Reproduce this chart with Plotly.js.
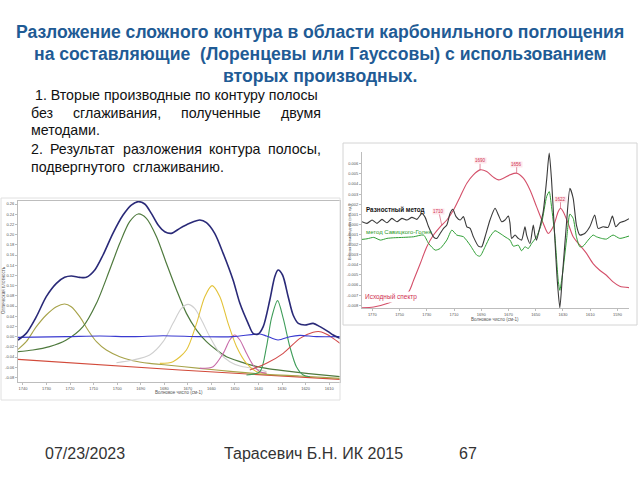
<!DOCTYPE html>
<html>
<head>
<meta charset="utf-8">
<script src="https://cdn.plot.ly/plotly-3.0.1.min.js"></script>
<style>html,body{margin:0;padding:0;background:#fff;}#chart{width:640px;height:480px;}</style>
</head>
<body>
<div id="chart"></div>
<script>
// ---------- Left chart: band decomposition (wavenumber, optical density) ----------
const totalX = [1742.1,1738.6,1734.3,1730.1,1725.8,1722.3,1719.5,1715.9,1713.1,1709.5,1706.0,1701.8,1697.5,1694.0,1691.1,1688.3,1685.5,1682.6,1679.8,1677.0,1673.4,1669.2,1664.9,1662.1,1658.6,1655.0,1650.8,1647.9,1644.4,1642.3,1640.1,1638.0,1635.2,1633.1,1631.7,1629.8,1627.4,1625.3,1623.1,1620.3,1616.8,1613.9,1610.4,1608.3,1605.4];
const totalY = [-0.0067,0.0064,0.0391,0.0783,0.1044,0.1162,0.1188,0.1162,0.1162,0.1306,0.1600,0.2025,0.2384,0.2580,0.2646,0.2600,0.2417,0.2188,0.2057,0.2025,0.2123,0.2221,0.2286,0.2234,0.2025,0.1633,0.1110,0.0652,0.0260,0.0064,0.0051,0.0195,0.0718,0.1175,0.1306,0.1208,0.0783,0.0424,0.0260,0.0227,0.0260,0.0195,0.0097,0.0031,-0.0034];
const residX = [1742.1,1721.6,1707.4,1693.3,1680.5,1664.9,1650.8,1639.4,1636.6,1631.7,1626.7,1622.4,1615.4,1605.4];
const residY = [-0.0014,-0.0001,0.0012,-0.0001,0.0018,-0.0001,-0.0001,0.0051,0.0012,-0.0067,-0.0001,0.0025,-0.0001,-0.0001];
const oliveX = [1742.1,1738.6,1734.3,1730.1,1725.8,1722.3,1719.5,1715.9,1712.4,1708.8,1704.6,1698.9,1693.3,1686.2,1679.1,1664.9,1650.8,1636.6,1622.4,1605.4];
const oliveY = [-0.0250,-0.0099,0.0195,0.0424,0.0587,0.0639,0.0587,0.0391,0.0129,-0.0099,-0.0263,-0.0393,-0.0472,-0.0524,-0.0557,-0.0622,-0.0687,-0.0740,-0.0773,-0.0818];
const bigX = [1742.1,1735.8,1728.7,1721.6,1714.5,1708.8,1703.2,1698.9,1694.7,1691.1,1687.6,1683.3,1679.1,1674.8,1670.6,1666.3,1662.1,1657.8,1653.6,1647.9,1642.3,1636.6,1629.5,1622.4,1615.4,1605.4];
const bigY = [-0.0295,-0.0263,-0.0197,-0.0067,0.0195,0.0652,0.1306,0.1829,0.2253,0.2404,0.2319,0.1959,0.1437,0.0914,0.0456,0.0129,-0.0099,-0.0263,-0.0393,-0.0491,-0.0570,-0.0622,-0.0668,-0.0707,-0.0740,-0.0786];
const grayX = [1700.3,1693.3,1686.2,1680.5,1676.3,1672.7,1669.9,1667.1,1664.2,1660.7,1656.4,1652.2,1647.9,1642.3,1636.6];
const grayY = [-0.0511,-0.0459,-0.0361,-0.0099,0.0260,0.0554,0.0633,0.0554,0.0325,-0.0001,-0.0328,-0.0491,-0.0576,-0.0622,-0.0687];
const yellowX = [1681.9,1676.3,1670.6,1666.3,1662.8,1659.7,1656.4,1652.9,1649.3,1645.1,1640.8,1636.6];
const yellowY = [-0.0524,-0.0491,-0.0263,0.0260,0.0783,0.0999,0.0783,0.0260,-0.0197,-0.0524,-0.0687,-0.0720];
const pinkX = [1664.9,1659.3,1655.0,1652.2,1650.1,1647.9,1645.1,1642.3,1639.4,1636.6];
const pinkY = [-0.0622,-0.0590,-0.0328,-0.0067,0.0031,-0.0067,-0.0328,-0.0557,-0.0687,-0.0720];
const sharpX = [1645.1,1639.4,1636.6,1634.5,1631.9,1629.5,1626.7,1623.9,1621.0,1618.2];
const sharpY = [-0.0753,-0.0687,-0.0197,0.0358,0.0705,0.0358,-0.0197,-0.0590,-0.0753,-0.0786];
const shoulderX = [1643.7,1636.6,1629.5,1622.4,1616.8,1613.9,1610.4,1608.3,1605.4];
const shoulderY = [-0.0655,-0.0524,-0.0328,-0.0034,0.0084,0.0097,0.0031,-0.0034,-0.0132];
const baseX = [1742.1,1673.4,1605.4];
const baseY = [-0.0446,-0.0655,-0.0838];
const leftXTicks = [1740,1730,1720,1710,1700,1690,1680,1670,1660,1650,1640,1630,1620,1610];
const leftYTicks = [0.26,0.24,0.22,0.20,0.18,0.16,0.14,0.12,0.10,0.08,0.06,0.04,0.02,0.00,-0.02,-0.04,-0.06,-0.08];

// ---------- Right chart: second derivatives ----------
const diffX = [1777.6,1773.9,1770.2,1766.6,1762.9,1759.3,1755.6,1751.9,1748.3,1744.6,1740.9,1737.3,1733.6,1731.2,1728.7,1725.1,1722.6,1720.2,1717.7,1715.3,1712.9,1710.9,1708.5,1705.5,1703.1,1700.6,1698.2,1695.8,1692.1,1689.7,1687.2,1683.6,1679.9,1677.4,1675.0,1672.6,1670.1,1668.9,1667.7,1665.2,1662.8,1660.4,1657.9,1656.7,1654.2,1651.8,1650.6,1649.4,1646.9,1644.5,1642.0,1640.1,1638.4,1635.9,1634.2,1632.3,1630.3,1627.4,1624.9,1622.5,1620.1,1617.6,1614.0,1610.3,1606.7,1604.2,1600.5,1596.9,1593.7,1591.2,1588.3,1584.6,1581.5];
const diffY = [0.27,0.11,0.44,0.11,0.50,0.17,0.60,0.27,0.60,0.44,0.70,0.50,1.10,0.70,-0.23,-1.22,-1.38,-0.89,-0.39,-0.06,1.10,1.50,0.77,0.44,0.77,-0.23,-0.39,-1.22,-2.15,-2.21,-1.22,0.44,1.60,0.93,0.27,0.44,0.83,0.11,-1.38,-1.05,-1.38,-1.55,-0.23,-1.05,-1.88,-0.06,-1.05,-1.55,-0.23,1.26,4.41,7.06,4.41,-1.55,-5.52,-8.24,-4.86,0.11,3.58,2.59,-0.06,-1.05,-0.89,-0.23,0.93,-0.39,-0.23,-0.29,0.83,-0.23,0.17,0.34,0.57].map(v => v / 1000);
const sgX = [1777.6,1773.9,1769.0,1764.1,1759.3,1754.4,1747.0,1739.7,1732.4,1728.7,1723.8,1720.2,1715.3,1711.6,1708.0,1703.1,1698.2,1693.3,1690.9,1687.2,1683.6,1679.9,1676.2,1672.6,1668.9,1666.5,1662.8,1660.4,1657.9,1655.5,1653.0,1649.4,1645.7,1642.0,1640.1,1638.4,1635.9,1633.5,1632.3,1630.3,1627.4,1624.9,1622.5,1620.1,1617.6,1615.2,1611.5,1607.9,1605.4,1601.7,1598.1,1593.2,1588.3,1581.5];
const sgY = [-1.48,-1.42,-1.28,-1.55,-1.38,-1.32,-1.28,-1.22,-1.05,-1.88,-2.54,-2.38,-1.55,-0.56,-1.05,-1.22,-2.05,-3.04,-3.14,-2.21,-1.22,-0.62,-0.89,-1.22,-1.55,-2.15,-2.05,-2.61,-2.21,-2.38,-1.88,-1.22,0.11,2.75,3.25,1.76,-1.22,-5.52,-6.52,-4.86,-1.55,1.03,0.60,-1.22,-2.21,-2.15,-1.55,-1.05,-1.22,-1.38,-1.45,-1.05,-1.38,-1.15].map(v => v / 1000);
const specX = [1777.6,1769.0,1758.0,1750.7,1743.4,1739.7,1734.8,1730.0,1725.1,1720.2,1715.3,1710.4,1705.5,1700.6,1695.8,1690.9,1686.0,1681.1,1677.4,1673.8,1668.9,1664.0,1659.1,1654.2,1649.4,1644.5,1640.8,1637.2,1633.5,1631.8,1629.8,1626.2,1622.5,1617.6,1612.7,1607.9,1603.0,1598.1,1593.2,1588.3,1581.5];
const specY = [-8.24,-8.17,-7.77,-7.34,-6.68,-5.52,-3.87,-2.21,-1.05,-0.23,0.44,1.43,2.75,4.08,4.91,5.40,5.24,4.68,4.41,4.58,4.91,5.07,4.58,3.42,1.76,0.11,-0.89,-0.23,1.26,1.60,1.26,0.11,-1.22,-2.05,-2.87,-3.87,-4.53,-5.03,-5.69,-6.12,-6.25].map(v => v / 1000);
const peakLabels = ["1690","1656","1622","1710"];
const peakX = [1690.9,1664.0,1631.8,1719.0];
const peakY = [0.00540,0.00507,0.00160,-0.00010];
const rightXTicks = [1770,1750,1730,1710,1690,1670,1650,1630,1610,1590];
const rightYTicks = [0.006,0.005,0.004,0.003,0.002,0.001,0.000,-0.001,-0.002,-0.003,-0.004,-0.005,-0.006,-0.007,-0.008];

const FONT = "Liberation Sans, Arial, sans-serif";
function ln(x, y, color, w, xa, ya, smooth) {
  return {x: x, y: y, type: 'scatter', mode: 'lines', xaxis: xa, yaxis: ya, hoverinfo: 'skip',
          line: {color: color, width: w, shape: 'spline', smoothing: smooth === undefined ? 0.8 : smooth}};
}
const traces = [
  ln(baseX, baseY, '#d24a3a', 1.1, 'x', 'y'),
  ln(oliveX, oliveY, '#a7a34a', 1.1, 'x', 'y'),
  ln(bigX, bigY, '#4f7a3e', 1.2, 'x', 'y'),
  ln(grayX, grayY, '#cfcfcf', 1.1, 'x', 'y'),
  ln(yellowX, yellowY, '#e3c33a', 1.1, 'x', 'y'),
  ln(pinkX, pinkY, '#c76aa8', 1.1, 'x', 'y'),
  ln(sharpX, sharpY, '#3f9d5a', 1.1, 'x', 'y'),
  ln(shoulderX, shoulderY, '#d24a4a', 1.1, 'x', 'y'),
  ln(residX, residY, '#3a3ad0', 1.1, 'x', 'y'),
  ln(totalX, totalY, '#2a2a78', 1.6, 'x', 'y'),
  ln(specX, specY, '#d4506a', 1.1, 'x2', 'y2'),
  ln(sgX, sgY, '#2f9e35', 1.0, 'x2', 'y2', 0.6),
  ln(diffX, diffY, '#3a3a3a', 1.1, 'x2', 'y2', 0.6)
];

const axBase = {showgrid: false, zeroline: false, showline: true, linecolor: '#bdbdbd', linewidth: 1,
  ticks: 'outside', ticklen: 2, tickcolor: '#bdbdbd', tickfont: {family: FONT, size: 4, color: '#555'}};

const annotations = [
  {text: '<b>Разложение сложного контура в области карбонильного поглощения</b>', x: 0.5, y: 1 - 32/480},
  {text: '<b>на составляющие  (Лоренцевы или Гауссовы) с использованием</b>', x: 0.5, y: 1 - 54/480},
  {text: '<b>вторых производных.</b>', x: 0.5, y: 1 - 76/480}
].map(a => Object.assign({xref: 'paper', yref: 'paper', showarrow: false, xanchor: 'center', yanchor: 'middle',
  font: {family: FONT, size: 17.6, color: '#1f5b95'}}, a));

const BODY_SIZE = 14.2;
function bodyWord(t, px, py, anchor) {
  return {text: t, xref: 'paper', yref: 'paper', x: px/640, y: 1 - py/480, showarrow: false,
    xanchor: anchor || 'left', yanchor: 'middle', font: {family: FONT, size: BODY_SIZE, color: '#111'}};
}
// justified line: spread words evenly between x0 and x1 (text layout only)
const measureCtx = document.createElement('canvas').getContext('2d');
measureCtx.font = BODY_SIZE + 'px "Liberation Sans", Arial, sans-serif';
function justify(line, x0, x1, py) {
  const words = line.split(' ');
  const widths = words.map(w => measureCtx.measureText(w).width);
  const total = widths.reduce((a, b) => a + b, 0);
  const gap = (x1 - x0 - total) / (words.length - 1);
  let x = x0;
  words.forEach((w, i) => { annotations.push(bodyWord(w, x, py)); x += widths[i] + gap; });
}
annotations.push(bodyWord('1. Вторые производные по контуру полосы', 33, 95));
justify('без сглаживания, полученные двумя', 29, 319, 113);
annotations.push(bodyWord('методами.', 29, 130));
justify('2. Результат разложения контура полосы,', 29, 319, 149);
annotations.push(bodyWord('подвергнутого  сглаживанию.', 29, 167));

function foot(t, px) {
  return {text: t, xref: 'paper', yref: 'paper', x: px/640, y: 1 - 453/480, showarrow: false,
    xanchor: 'center', yanchor: 'middle', font: {family: FONT, size: 16, color: '#333'}};
}
annotations.push(foot('07/23/2023', 85));
annotations.push(foot('Тарасевич Б.Н. ИК 2015', 313));
annotations.push(foot('67', 468));

// axis titles (tiny)
annotations.push({text: 'Волновое число (см-1)', xref: 'paper', yref: 'paper', x: 179/640, y: 1 - 392/480,
  showarrow: false, xanchor: 'center', yanchor: 'middle', font: {family: FONT, size: 4.5, color: '#555'}});
annotations.push({text: 'Оптическая плотность', xref: 'paper', yref: 'paper', x: 3/640, y: 1 - 290/480,
  showarrow: false, textangle: -90, xanchor: 'center', yanchor: 'middle', font: {family: FONT, size: 4.5, color: '#555'}});
annotations.push({text: 'Волновое число (см-1)', xref: 'paper', yref: 'paper', x: 495/640, y: 1 - 319/480,
  showarrow: false, xanchor: 'center', yanchor: 'middle', font: {family: FONT, size: 4.5, color: '#555'}});
annotations.push({text: 'Вторая производная (отн. ед.)', xref: 'paper', yref: 'paper', x: 349/640, y: 1 - 232/480,
  showarrow: false, textangle: -90, xanchor: 'center', yanchor: 'middle', font: {family: FONT, size: 4, color: '#555'}});

// series labels in right chart
annotations.push({text: '<b>Разностный метод</b>', xref: 'paper', yref: 'paper', x: 364/640, y: 1 - 210/480,
  showarrow: false, xanchor: 'left', yanchor: 'middle', font: {family: FONT, size: 6.3, color: '#111'}});
annotations.push({text: 'метод Савицкого-Голея', xref: 'paper', yref: 'paper', x: 364/640, y: 1 - 232/480,
  showarrow: false, xanchor: 'left', yanchor: 'middle', font: {family: FONT, size: 6, color: '#2a9a2a'}});
annotations.push({text: 'Исходный спектр', xref: 'paper', yref: 'paper', x: 363/640, y: 1 - 297/480,
  showarrow: false, xanchor: 'left', yanchor: 'middle', bgcolor: '#fff', font: {family: FONT, size: 6.5, color: '#d03050'}});

for (let i = 0; i < peakLabels.length; i++) {
  annotations.push({text: peakLabels[i], xref: 'x2', yref: 'y2', x: peakX[i], y: peakY[i],
    showarrow: true, arrowhead: 0, arrowwidth: 0.6, arrowcolor: '#d04060', ax: i === 3 ? -3 : 0, ay: i === 3 ? -14 : -9,
    font: {family: FONT, size: 4.5, color: '#d03050'}, bgcolor: '#fde8ec', borderpad: 0});
}

const layout = {
  width: 640, height: 480, margin: {l: 0, r: 0, t: 0, b: 0},
  paper_bgcolor: '#fff', plot_bgcolor: 'rgba(0,0,0,0)', showlegend: false,
  xaxis: Object.assign({}, axBase, {domain: [18/640, 340/640], range: [1742.1, 1605.4], anchor: 'y',
    tickvals: leftXTicks, ticktext: leftXTicks.map(String), mirror: true}),
  yaxis: Object.assign({}, axBase, {domain: [1 - 381.7/480, 1 - 201/480], range: [-0.0884, 0.2659], anchor: 'x',
    tickvals: leftYTicks, ticktext: leftYTicks.map(v => v.toFixed(2)), mirror: true}),
  xaxis2: Object.assign({}, axBase, {domain: [362/640, 629/640], range: [1777.6, 1581.5], anchor: 'y2',
    tickvals: rightXTicks, ticktext: rightXTicks.map(String)}),
  yaxis2: Object.assign({}, axBase, {domain: [1 - 308.3/480, 1 - 151.7/480], range: [-0.0083, 0.0072], anchor: 'x2',
    tickvals: rightYTicks, ticktext: rightYTicks.map(v => v.toFixed(3))}),
  shapes: [
    {type: 'rect', xref: 'paper', yref: 'paper', x0: 1/640, x1: 340/640, y0: 1 - 400/480, y1: 1 - 198/480,
     line: {color: '#e0e0e0', width: 1}},
    {type: 'rect', xref: 'paper', yref: 'paper', x0: 343/640, x1: 637/640, y0: 1 - 325/480, y1: 1 - 143/480,
     line: {color: '#d4d4d4', width: 1}}
  ],
  annotations: annotations
};

Plotly.newPlot('chart', traces, layout, {staticPlot: true, displayModeBar: false});
</script>
</body>
</html>
